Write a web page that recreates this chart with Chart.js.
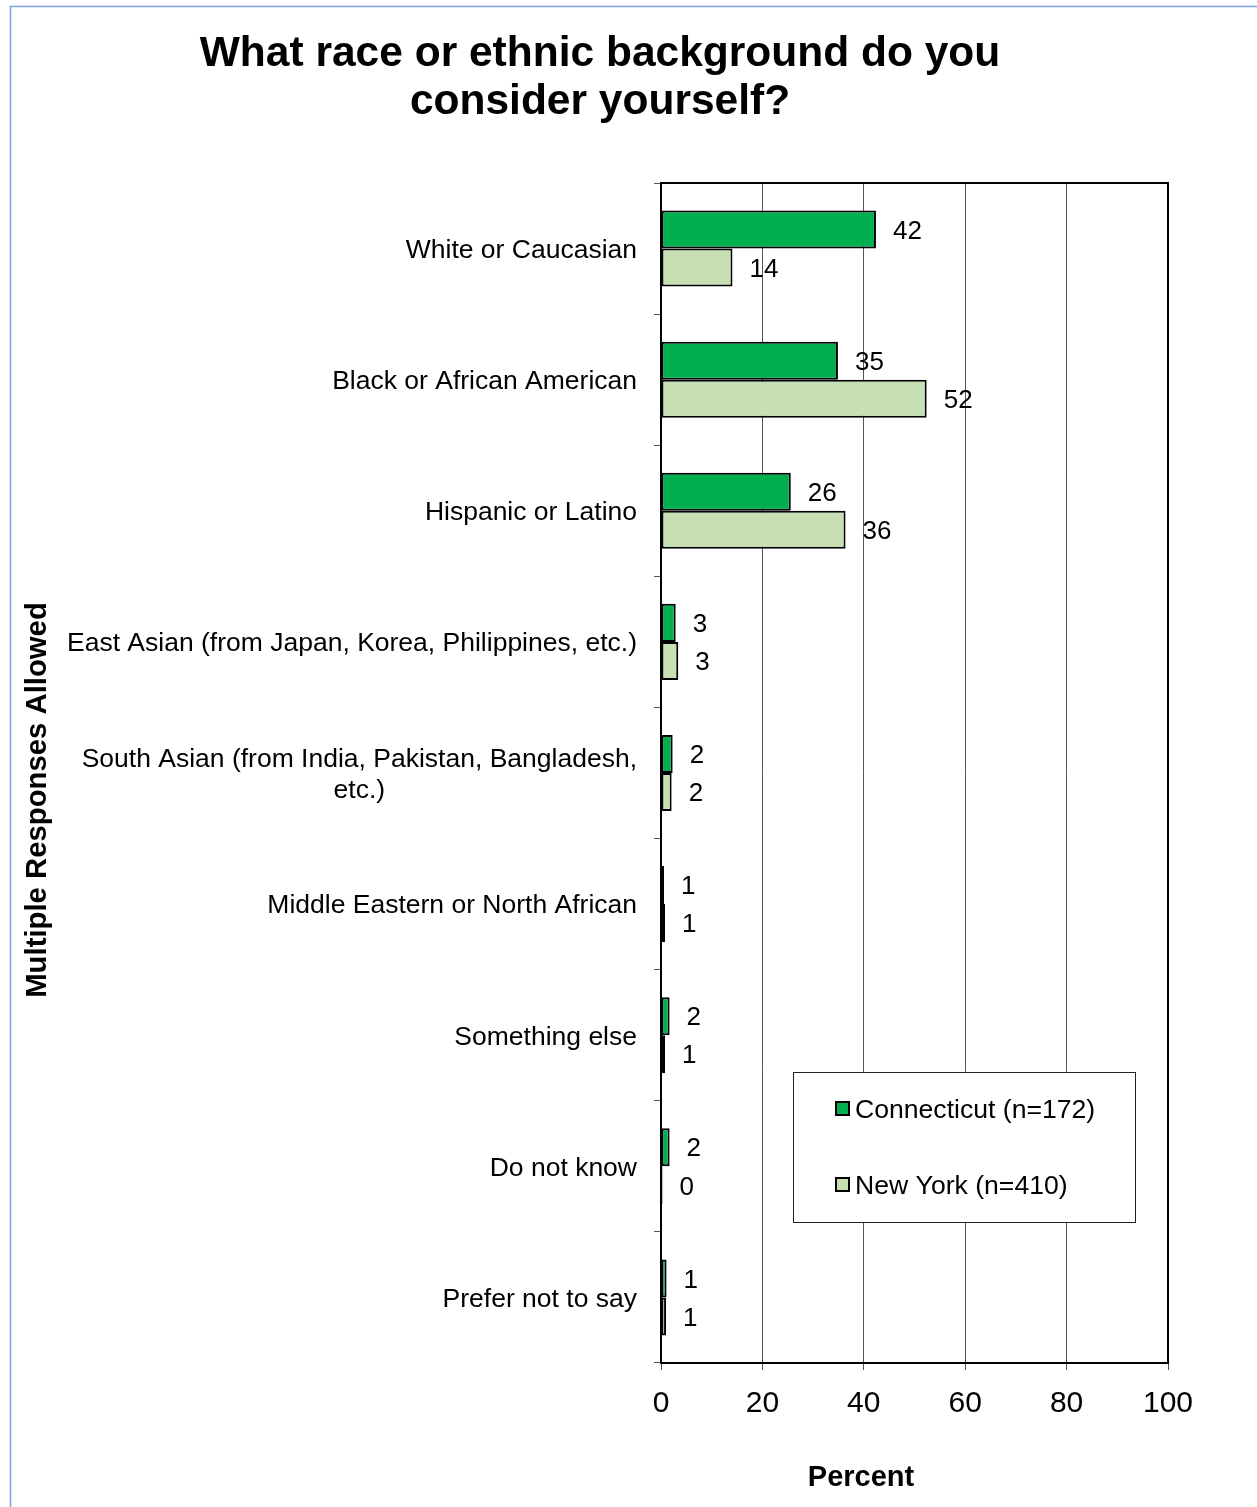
<!DOCTYPE html>
<html>
<head>
<meta charset="utf-8">
<script src="https://cdn.jsdelivr.net/npm/chart.js@4.4.0/dist/chart.umd.min.js"></script>
<style>
	html, body { margin: 0; padding: 0; background: #fff; }
	#wrap { position: relative; width: 1257px; height: 1507px; }
</style>
</head>
<body>
<div id="wrap"><canvas id="race-chart" width="1257" height="1507"></canvas></div>
<script>
var titleLines = ['What race or ethnic background do you', 'consider yourself?'];
var categories = [
	'White or Caucasian',
	'Black or African American',
	'Hispanic or Latino',
	'East Asian (from Japan, Korea, Philippines, etc.)',
	['South Asian (from India, Pakistan, Bangladesh,', 'etc.)'],
	'Middle Eastern or North African',
	'Something else',
	'Do not know',
	'Prefer not to say'
];
var seriesNames = ['Connecticut (n=172)', 'New York (n=410)'];
var connecticut = [42.4, 34.9, 25.6, 2.9, 2.3, 0.6, 1.7, 1.7, 1.1];
var newYork = [14.1, 52.4, 36.4, 3.4, 2.1, 0.8, 0.8, 0.3, 1.0];
var xTicks = [0, 20, 40, 60, 80, 100];
var yTitle = 'Multiple Responses Allowed';
var xTitle = 'Percent';

var FONT = '"Liberation Sans", Arial, sans-serif';

// titles, frame, category labels, value labels and legend
var decor = {
	id: 'decor',
	beforeDraw: function(chart){
		var ctx = chart.ctx;
		ctx.save();
		ctx.fillStyle = '#fff';
		ctx.fillRect(0, 0, chart.width, chart.height);
		ctx.strokeStyle = '#7f9fdc';
		ctx.lineWidth = 1.5;
		ctx.beginPath();
		ctx.moveTo(10.5, chart.height);
		ctx.lineTo(10.5, 6.5);
		ctx.lineTo(chart.width, 6.5);
		ctx.stroke();
		ctx.restore();
	},
	afterDatasetsDraw: function(chart){
		var ctx = chart.ctx, area = chart.chartArea, ys = chart.scales.y;
		ctx.save();

		// top/right frame
		ctx.strokeStyle = '#000';
		ctx.lineWidth = 2;
		ctx.beginPath();
		ctx.moveTo(area.left, area.top);
		ctx.lineTo(area.right, area.top);
		ctx.lineTo(area.right, area.bottom);
		ctx.stroke();

		// main title
		ctx.fillStyle = '#000';
		ctx.textAlign = 'center';
		ctx.textBaseline = 'middle';
		ctx.font = 'bold 42.5px ' + FONT;
		titleLines.forEach(function(t, i){
			ctx.fillText(t, 600, 54 + i * 48);
		});

		// axis titles
		ctx.font = 'bold 29px ' + FONT;
		ctx.fillText(xTitle, 861, 1478);
		ctx.save();
		ctx.translate(38, 800);
		ctx.rotate(-Math.PI / 2);
		ctx.font = 'bold 29.3px ' + FONT;
		ctx.fillText(yTitle, 0, 0);
		ctx.restore();

		// category labels (multi-line ones centred on each other)
		ctx.font = '26.5px ' + FONT;
		categories.forEach(function(c, i){
			var cy = ys.getPixelForValue(i) + 2;
			var lines = Array.isArray(c) ? c : [c];
			var w = 0;
			lines.forEach(function(l){ w = Math.max(w, ctx.measureText(l).width); });
			var cx = 637 - w / 2;
			lines.forEach(function(l, j){
				ctx.textAlign = 'center';
				ctx.fillText(l, cx, cy + (j - (lines.length - 1) / 2) * 31);
			});
		});

		// value labels
		ctx.textAlign = 'left';
		ctx.font = '26px ' + FONT;
		chart.data.datasets.forEach(function(ds, di){
			chart.getDatasetMeta(di).data.forEach(function(bar, i){
				ctx.fillText(Math.round(ds.data[i]), bar.x + 17, bar.y + 2);
			});
		});

		// legend
		ctx.fillStyle = '#fff';
		ctx.fillRect(793, 1072, 342, 150);
		ctx.strokeStyle = '#222';
		ctx.lineWidth = 1;
		ctx.strokeRect(793.5, 1072.5, 342, 150);
		chart.data.datasets.forEach(function(ds, di){
			var ly = 1109 + di * 76;
			ctx.fillStyle = ds.backgroundColor;
			ctx.fillRect(836, ly - 7, 13, 13);
			ctx.strokeStyle = '#000';
			ctx.lineWidth = 2;
			ctx.strokeRect(836, ly - 7, 13, 13);
			ctx.fillStyle = '#000';
			ctx.font = '26.6px ' + FONT;
			ctx.textAlign = 'left';
			ctx.fillText(ds.label, 855, ly + 2);
		});
		ctx.restore();
	}
};

new Chart(document.getElementById('race-chart'), {
	type: 'bar',
	data: {
		labels: categories,
		datasets: [
			{
				label: seriesNames[0],
				data: connecticut,
				backgroundColor: '#00b050',
				borderColor: '#000',
				borderWidth: 2,
				borderSkipped: false
			},
			{
				label: seriesNames[1],
				data: newYork,
				backgroundColor: '#c6e0b4',
				borderColor: '#000',
				borderWidth: 2,
				borderSkipped: false
			}
		]
	},
	options: {
		indexAxis: 'y',
		responsive: false,
		animation: false,
		events: [],
		categoryPercentage: 0.58,
		barPercentage: 1,
		layout: { padding: { top: 183, right: 89, left: 0, bottom: 0 } },
		plugins: {
			legend: { display: false },
			title: { display: false },
			tooltip: { enabled: false }
		},
		scales: {
			x: {
				min: 0,
				max: 100,
				afterBuildTicks: function(scale){
					scale.ticks = xTicks.map(function(v){ return { value: v }; });
				},
				afterFit: function(scale){ scale.height = 144; },
				grid: { color: '#555', lineWidth: 1, tickLength: 7 },
				border: { color: '#000', width: 2 },
				ticks: {
					color: '#000',
					padding: 16,
					maxRotation: 0,
					font: { family: FONT, size: 30 }
				}
			},
			y: {
				afterFit: function(scale){ scale.width = 661; },
				grid: { offset: true, drawOnChartArea: false, color: '#555', tickLength: 7 },
				border: { color: '#000', width: 2 },
				ticks: { display: false }
			}
		}
	},
	plugins: [decor]
});
</script>
</body>
</html>
